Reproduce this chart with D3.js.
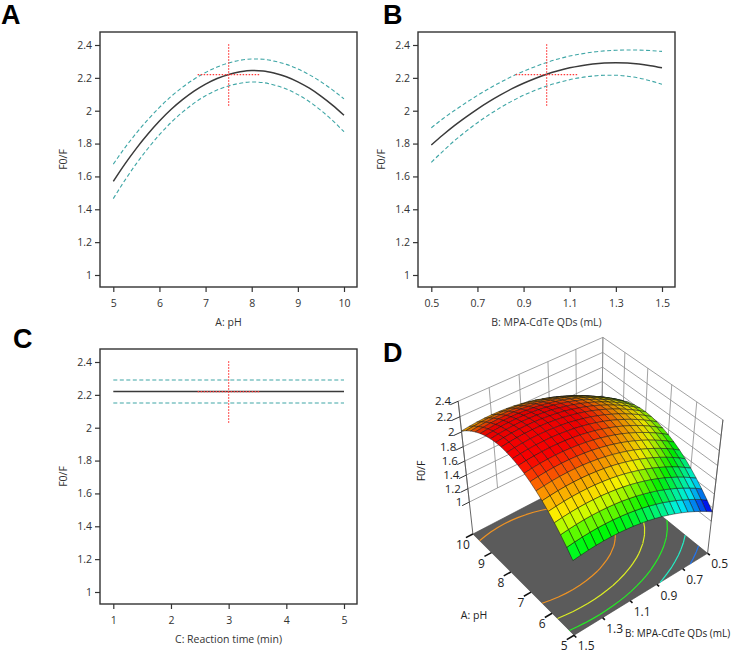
<!DOCTYPE html>
<html>
<head>
<meta charset="utf-8">
<script src="https://cdn.jsdelivr.net/npm/d3@7"></script>
<style>
  body { margin: 0; background: #fff; }
  svg { display: block; font-family: "Open Sans", sans-serif; }
</style>
</head>
<body>
<svg width="734" height="653"></svg>
<script>
// values

// A: pH (B = 1.0 mL, C = 3 min)
const pH      = [5, 5.25, 5.5, 5.75, 6, 6.25, 6.5, 6.75, 7, 7.25, 7.5, 7.75, 8, 8.25, 8.5, 8.75, 9, 9.25, 9.5, 9.75, 10];
const pHMean  = [1.57, 1.675, 1.771, 1.858, 1.937, 2.007, 2.067, 2.119, 2.162, 2.196, 2.221, 2.237, 2.245, 2.242, 2.228, 2.207, 2.176, 2.137, 2.089, 2.034, 1.972];
const pHUpper = [1.675, 1.774, 1.864, 1.946, 2.02, 2.086, 2.143, 2.192, 2.233, 2.266, 2.291, 2.307, 2.315, 2.313, 2.301, 2.282, 2.254, 2.219, 2.176, 2.127, 2.072];
const pHLower = [1.465, 1.576, 1.678, 1.77, 1.854, 1.928, 1.991, 2.046, 2.091, 2.126, 2.151, 2.167, 2.175, 2.171, 2.155, 2.132, 2.098, 2.055, 2.002, 1.941, 1.872];

// B: MPA-CdTe QDs volume (pH 7.5, 3 min)
const qd      = [0.5, 0.55, 0.6, 0.65, 0.7, 0.75, 0.8, 0.85, 0.9, 0.95, 1, 1.05, 1.1, 1.15, 1.2, 1.25, 1.3, 1.35, 1.4, 1.45, 1.5];
const qdMean  = [1.791, 1.852, 1.909, 1.961, 2.01, 2.055, 2.096, 2.134, 2.167, 2.196, 2.222, 2.243, 2.261, 2.274, 2.284, 2.29, 2.292, 2.29, 2.284, 2.274, 2.261];
const qdUpper = [1.896, 1.951, 2.001, 2.048, 2.093, 2.135, 2.173, 2.209, 2.24, 2.268, 2.294, 2.315, 2.333, 2.346, 2.357, 2.364, 2.368, 2.37, 2.369, 2.366, 2.361];
const qdLower = [1.686, 1.753, 1.817, 1.874, 1.927, 1.975, 2.019, 2.059, 2.094, 2.124, 2.15, 2.171, 2.189, 2.202, 2.211, 2.216, 2.216, 2.21, 2.199, 2.182, 2.161];

// C: reaction time (no effect)
const time      = [1, 2, 3, 4, 5];
const timeMean  = [2.22, 2.22, 2.22, 2.22, 2.22];
const timeUpper = [2.29, 2.29, 2.29, 2.29, 2.29];
const timeLower = [2.15, 2.15, 2.15, 2.15, 2.15];

// centre point prediction and its interval (red cross)
const centre = 2.22;
const predInterval = [2.03, 2.41];
const centrePH = 7.5, centreQD = 1.0, centreTime = 3;

const yTicks    = [1, 1.2, 1.4, 1.6, 1.8, 2, 2.2, 2.4];
const pHTicks   = [5, 6, 7, 8, 9, 10];
const qdTicks   = [0.5, 0.7, 0.9, 1.1, 1.3, 1.5];
const timeTicks = [1, 2, 3, 4, 5];
const contourLevels = [1.3, 1.5, 1.7, 1.9, 2.1];

const svg = d3.select("svg");
const ink = "#333";

// ---------- 2D effect plots ----------
function effectPlot(ox, oy, xs, mean, upper, lower, xTicks, xTitle, cx) {
  const left = ox + 100, right = ox + 357, top = oy + 32, bottom = oy + 287;
  const x = d3.scaleLinear().domain(d3.extent(xs)).range([left + 13.3, right - 13]);
  const y = d3.scaleLinear().domain([1, 2.4]).range([bottom - 12, top + 13]);
  const g = svg.append("g");

  const ya = g.append("g").attr("transform", `translate(${left},0)`)
    .call(d3.axisLeft(y).tickValues(yTicks).tickSize(5).tickPadding(3).tickFormat(d3.format("")));
  const xa = g.append("g").attr("transform", `translate(0,${bottom})`)
    .call(d3.axisBottom(x).tickValues(xTicks).tickSize(5).tickPadding(8).tickFormat(d3.format("")));
  [ya, xa].forEach(a => {
    a.select(".domain").remove();
    a.selectAll("line").attr("stroke", ink).attr("stroke-width", 1.2);
    a.selectAll("text").attr("fill", ink).style("font-size", "10.5px").style("font-family", "Open Sans");
  });

  g.append("rect").attr("x", left).attr("y", top).attr("width", right - left).attr("height", bottom - top)
    .attr("fill", "none").attr("stroke", ink).attr("stroke-width", 1.4);

  const line = d3.line().x(d => x(d[0])).y(d => y(d[1])).curve(d3.curveMonotoneX);
  const pairs = arr => xs.map((v, i) => [v, arr[i]]);
  [upper, lower].forEach(s => g.append("path").attr("d", line(pairs(s)))
    .attr("fill", "none").attr("stroke", "#3fa6a6").attr("stroke-width", 1.1).attr("stroke-dasharray", "4,2.5"));
  g.append("path").attr("d", line(pairs(mean)))
    .attr("fill", "none").attr("stroke", "#3a3a3a").attr("stroke-width", 1.5);

  // red cross at the centre point
  g.append("line").attr("x1", x(cx)).attr("x2", x(cx)).attr("y1", y(predInterval[0])).attr("y2", y(predInterval[1]))
    .attr("stroke", "#ff3b3b").attr("stroke-width", 1.2).attr("stroke-dasharray", "1.5,1.5");
  g.append("line").attr("x1", x(cx) - 31).attr("x2", x(cx) + 31).attr("y1", y(centre)).attr("y2", y(centre))
    .attr("stroke", "#ff3b3b").attr("stroke-width", 1.2).attr("stroke-dasharray", "1.5,1.5");

  g.append("text").attr("x", (left + right) / 2).attr("y", bottom + 35).attr("dy", "0.35em").attr("text-anchor", "middle")
    .attr("fill", ink).style("font-size", "10.5px").text(xTitle);
  g.append("text").attr("transform", `translate(${left - 37},${(top + bottom) / 2}) rotate(-90)`)
    .attr("text-anchor", "middle").attr("dy", "0.35em").attr("fill", ink).style("font-size", "10.5px").text("F0/F");
}

effectPlot(0, 0, pH, pHMean, pHUpper, pHLower, pHTicks, "A: pH", centrePH);
effectPlot(318, 0, qd, qdMean, qdUpper, qdLower, qdTicks, "B: MPA-CdTe QDs (mL)", centreQD);
effectPlot(0, 317, time, timeMean, timeUpper, timeLower, timeTicks, "C: Reaction time (min)", centreTime);

// ---------- D: 3D response surface ----------
const deg = Math.PI / 180;
const view = { azimuth: -38.4 * deg, elevation: 41.5 * deg, distance: 11, focal: 974, cx: 589, cy: 481 };
const ca = Math.cos(view.azimuth), sa = Math.sin(view.azimuth);
const ce = Math.cos(view.elevation), se = Math.sin(view.elevation);
const fwd = [-ce * ca, -ce * sa, -se];
const rgt = [-sa, ca, 0];
const upv = [rgt[1] * fwd[2] - rgt[2] * fwd[1], rgt[2] * fwd[0] - rgt[0] * fwd[2], rgt[0] * fwd[1] - rgt[1] * fwd[0]];

const zFloor = 0.5;
const wx = d3.scaleLinear().domain([5, 10]).range([1, -1]);
const wy = d3.scaleLinear().domain([0.5, 1.5]).range([1, -1]);
const wz = d3.scaleLinear().domain([zFloor, 2.4]).range([-1, 1]);

function world(p, b, z) { return [wx(p), wy(b), wz(z)]; }
function project(p, b, z) {
  const [X, Y, Z] = world(p, b, z);
  const d = view.distance + X * fwd[0] + Y * fwd[1] + Z * fwd[2];
  const sx = X * rgt[0] + Y * rgt[1];
  const sy = X * upv[0] + Y * upv[1] + Z * upv[2];
  return [view.cx + view.focal * sx / d, view.cy - view.focal * sy / d, d];
}

// model surface: pH and QD effects add (no visible interaction), no time effect
const surface = pH.map((p, i) => qd.map((b, j) => pHMean[i] + qdMean[j] - centre));

const surfaceColor = d3.scaleLinear()
  .domain([1.2, 1.45, 1.7, 1.92, 2.1, 2.25])
  .range(["#0000ff", "#00ffff", "#00ff00", "#ffff00", "#ff8c00", "#ff0000"])
  .clamp(true);

const gd = svg.append("g");
const pt = a => a[0].toFixed(2) + "," + a[1].toFixed(2);

// floor
const floorCorners = [[5, 0.5], [5, 1.5], [10, 1.5], [10, 0.5]].map(c => project(c[0], c[1], zFloor));
gd.append("path").attr("d", "M" + floorCorners.map(pt).join("L") + "Z")
  .attr("fill", "#5b5b5b").attr("stroke", "#444").attr("stroke-width", 0.6);

// floor contours (marching squares on the surface grid)
function contourSegments(level) {
  const segs = [];
  for (let i = 0; i < pH.length - 1; i++) {
    for (let j = 0; j < qd.length - 1; j++) {
      const c = [[i, j], [i + 1, j], [i + 1, j + 1], [i, j + 1]];
      const pts = [];
      for (let k = 0; k < 4; k++) {
        const [a0, b0] = c[k], [a1, b1] = c[(k + 1) % 4];
        const v0 = surface[a0][b0] - level, v1 = surface[a1][b1] - level;
        if ((v0 < 0) !== (v1 < 0)) {
          const t = v0 / (v0 - v1);
          pts.push([pH[a0] + t * (pH[a1] - pH[a0]), qd[b0] + t * (qd[b1] - qd[b0])]);
        }
      }
      if (pts.length >= 2) segs.push([pts[0], pts[1]]);
      if (pts.length === 4) segs.push([pts[2], pts[3]]);
    }
  }
  return segs;
}
contourLevels.forEach(l => {
  const d = contourSegments(l).map(s => "M" + pt(project(s[0][0], s[0][1], zFloor)) + "L" + pt(project(s[1][0], s[1][1], zFloor))).join("");
  gd.append("path").attr("d", d).attr("fill", "none")
    .attr("stroke", d3.interpolateRgb(surfaceColor(l), "#b0b0b0")(0.2)).attr("stroke-width", 1.2);
});

// back walls: grid
const wallStroke = "#8a8a8a";
function seg(a, b, stroke, w) {
  gd.append("line").attr("x1", a[0]).attr("y1", a[1]).attr("x2", b[0]).attr("y2", b[1])
    .attr("stroke", stroke).attr("stroke-width", w);
}
yTicks.forEach(z => {
  seg(project(10, 1.5, z), project(10, 0.5, z), wallStroke, 0.8);
  seg(project(10, 0.5, z), project(5, 0.5, z), wallStroke, 0.8);
});
qdTicks.forEach(b => seg(project(10, b, 1), project(10, b, 2.4), wallStroke, 0.8));
pHTicks.forEach(p => seg(project(p, 0.5, 1), project(p, 0.5, 2.4), wallStroke, 0.8));
seg(project(10, 1.5, zFloor), project(10, 1.5, 2.4), "#555", 0.9);
seg(project(5, 0.5, zFloor), project(5, 0.5, 2.4), "#555", 0.9);

// z axis ticks + labels
yTicks.forEach(z => {
  const a = project(10, 1.5, z), b = project(10, 1.55, z);
  seg(a, b, "#333", 1);
  gd.append("text").attr("x", a[0] - 7).attr("y", a[1]).attr("dy", "0.35em").attr("text-anchor", "end")
    .attr("fill", "#222").style("font-size", "11.5px").text(d3.format("")(z));
});
gd.append("text").attr("transform", "translate(421,471) rotate(-90)").attr("text-anchor", "middle")
  .attr("dy", "0.35em").attr("fill", "#222").style("font-size", "10.5px").text("F0/F");

// floor axes
pHTicks.forEach(p => {
  const a = project(p, 1.5, zFloor), b = project(p, 1.55, zFloor);
  seg(a, b, "#111", 1.6);
  gd.append("text").attr("x", a[0] - 10).attr("y", a[1] + 11).attr("dy", "0.35em").attr("text-anchor", "middle")
    .attr("fill", "#222").style("font-size", "12px").text(p);
});
qdTicks.forEach(b => {
  const a = project(5, b, zFloor), c = project(4.9, b, zFloor);
  seg(a, c, "#111", 1.6);
  gd.append("text").attr("x", a[0] + 12).attr("y", a[1] + 11).attr("dy", "0.35em").attr("text-anchor", "middle")
    .attr("fill", "#222").style("font-size", "12px").text(d3.format("")(b));
});
gd.append("text").attr("x", 474).attr("y", 615).attr("dy", "0.35em").attr("text-anchor", "middle")
  .attr("fill", "#222").style("font-size", "10.5px").text("A: pH");
gd.append("text").attr("x", 625).attr("y", 633).attr("dy", "0.35em").attr("text-anchor", "start")
  .attr("fill", "#222").style("font-size", "10px").text("B: MPA-CdTe QDs (mL)");

// surface cells, far to near
const cells = [];
for (let i = 0; i < pH.length - 1; i++) {
  for (let j = 0; j < qd.length - 1; j++) {
    const idx = [[i, j], [i + 1, j], [i + 1, j + 1], [i, j + 1]];
    const proj = idx.map(([a, b]) => project(pH[a], qd[b], surface[a][b]));
    const w = idx.map(([a, b]) => world(pH[a], qd[b], surface[a][b]));
    const d1 = [w[2][0] - w[0][0], w[2][1] - w[0][1], w[2][2] - w[0][2]];
    const d2 = [w[3][0] - w[1][0], w[3][1] - w[1][1], w[3][2] - w[1][2]];
    let n = [d1[1] * d2[2] - d1[2] * d2[1], d1[2] * d2[0] - d1[0] * d2[2], d1[0] * d2[1] - d1[1] * d2[0]];
    const nl = Math.hypot(n[0], n[1], n[2]);
    n = n.map(v => v / nl);
    const facing = Math.abs(n[0] * fwd[0] + n[1] * fwd[1] + n[2] * fwd[2]);
    const value = d3.mean(idx, ([a, b]) => surface[a][b]);
    cells.push({ proj, depth: d3.mean(proj, p => p[2]), value, shade: 0.8 + 0.2 * facing });
  }
}
cells.sort((a, b) => b.depth - a.depth);
gd.append("g").selectAll("path").data(cells).join("path")
  .attr("d", c => "M" + c.proj.map(pt).join("L") + "Z")
  .attr("fill", c => {
    const col = d3.rgb(surfaceColor(c.value));
    return d3.rgb(col.r * c.shade, col.g * c.shade, col.b * c.shade);
  })
  .attr("stroke", "#111").attr("stroke-opacity", 0.8).attr("stroke-width", 0.6).attr("stroke-linejoin", "round");

// panel letters
[["A", 1, 24], ["B", 383, 24], ["C", 13, 348], ["D", 383, 362]].forEach(([t, x, y]) =>
  svg.append("text").attr("x", x).attr("y", y).attr("fill", "#000")
    .style("font-family", "Liberation Sans, Arial, sans-serif").style("font-weight", "bold").style("font-size", "27px").text(t));
</script>
</body>
</html>
